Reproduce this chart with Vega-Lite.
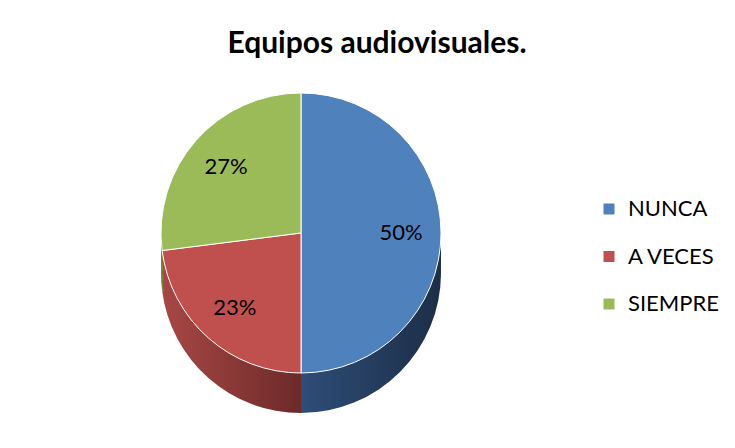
{
  "$schema": "https://vega.github.io/schema/vega-lite/v6.json",
  "autosize": {"type": "none"},
  "padding": {"left": 11, "top": 70, "right": 144, "bottom": 52},
  "width": 580,
  "height": 326,
  "background": "white",
  "title": {"text": "Equipos audiovisuales.", "font": "Lato", "fontSize": 30, "fontWeight": "bold", "color": "black", "anchor": "middle", "frame": "group", "dx": 76, "offset": 11},
  "data": {"values": [
    {"cat": "NUNCA", "val": 0.50, "idx": 1},
    {"cat": "A VECES", "val": 0.23, "idx": 2},
    {"cat": "SIEMPRE", "val": 0.27, "idx": 3}
  ]},
  "encoding": {
    "theta": {"field": "val", "type": "quantitative", "stack": true},
    "order": {"field": "idx", "type": "quantitative"}
  },
  "layer": [
    {"mark": {"type": "arc", "radius": 140, "yOffset": 40}, "encoding": {"fill": {"condition": [{"test": "datum.cat === 'NUNCA'", "value": {"gradient": "linear", "x1": 0, "y1": 0, "x2": 1, "y2": 0, "stops": [{"offset": 0, "color": "#2E4D78"}, {"offset": 1, "color": "#1D2E47"}]}}, {"test": "datum.cat === 'A VECES'", "value": {"gradient": "linear", "x1": 0, "y1": 0, "x2": 1, "y2": 0, "stops": [{"offset": 0, "color": "#A84745"}, {"offset": 1, "color": "#6C2A29"}]}}], "value": "#6F8A3C"}}},
    {"mark": {"type": "arc", "radius": 140, "yOffset": 30}, "encoding": {"fill": {"condition": [{"test": "datum.cat === 'NUNCA'", "value": {"gradient": "linear", "x1": 0, "y1": 0, "x2": 1, "y2": 0, "stops": [{"offset": 0, "color": "#2E4D78"}, {"offset": 1, "color": "#1D2E47"}]}}, {"test": "datum.cat === 'A VECES'", "value": {"gradient": "linear", "x1": 0, "y1": 0, "x2": 1, "y2": 0, "stops": [{"offset": 0, "color": "#A84745"}, {"offset": 1, "color": "#6C2A29"}]}}], "value": "#6F8A3C"}}},
    {"mark": {"type": "arc", "radius": 140, "yOffset": 20}, "encoding": {"fill": {"condition": [{"test": "datum.cat === 'NUNCA'", "value": {"gradient": "linear", "x1": 0, "y1": 0, "x2": 1, "y2": 0, "stops": [{"offset": 0, "color": "#2E4D78"}, {"offset": 1, "color": "#1D2E47"}]}}, {"test": "datum.cat === 'A VECES'", "value": {"gradient": "linear", "x1": 0, "y1": 0, "x2": 1, "y2": 0, "stops": [{"offset": 0, "color": "#A84745"}, {"offset": 1, "color": "#6C2A29"}]}}], "value": "#6F8A3C"}}},
    {"mark": {"type": "arc", "radius": 140, "yOffset": 10}, "encoding": {"fill": {"condition": [{"test": "datum.cat === 'NUNCA'", "value": {"gradient": "linear", "x1": 0, "y1": 0, "x2": 1, "y2": 0, "stops": [{"offset": 0, "color": "#2E4D78"}, {"offset": 1, "color": "#1D2E47"}]}}, {"test": "datum.cat === 'A VECES'", "value": {"gradient": "linear", "x1": 0, "y1": 0, "x2": 1, "y2": 0, "stops": [{"offset": 0, "color": "#A84745"}, {"offset": 1, "color": "#6C2A29"}]}}], "value": "#6F8A3C"}}},
    {"mark": {"type": "arc", "radius": 140, "stroke": "white", "strokeWidth": 1},
     "encoding": {"color": {"field": "cat", "type": "nominal", "sort": ["NUNCA", "A VECES", "SIEMPRE"],
       "scale": {"domain": ["NUNCA", "A VECES", "SIEMPRE"], "range": ["#4F81BD", "#C0504D", "#9BBB59"]},
       "legend": {"orient": "none", "legendX": 587, "legendY": 128, "title": null, "symbolType": "square", "symbolSize": 121, "symbolStrokeWidth": 0, "labelFont": "Lato", "labelFontSize": 22, "labelColor": "black", "labelOffset": 8, "rowPadding": 25.5, "padding": 0}}}},
    {"mark": {"type": "text", "radius": 100, "font": "Lato", "fontSize": 22, "color": "black"},
     "encoding": {"text": {"field": "val", "type": "quantitative", "format": ".0%"}}}
  ],
  "config": {"view": {"stroke": null}}
}
